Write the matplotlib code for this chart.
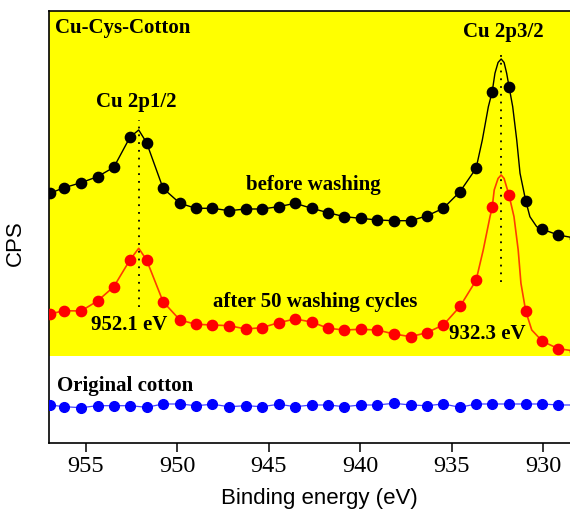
import numpy as np
import matplotlib.pyplot as plt

# marker energies (eV), shared by all three spectra
energy = [956.96, 956.17, 955.25, 954.35, 953.46, 952.58, 951.67, 950.77, 949.85,
          948.98, 948.07, 947.16, 946.25, 945.37, 944.46, 943.55, 942.66, 941.75,
          940.87, 939.98, 939.07, 938.16, 937.25, 936.37, 935.46, 934.55, 933.67,
          932.79, 931.87, 930.96, 930.05, 929.18, 928.29]

# intensities (a.u., stacked) at the marker energies
before = [249.7, 255.3, 260.3, 266.3, 275.7, 305.7, 300.3, 254.7, 239.7, 234.7,
          234.7, 232.3, 234.0, 234.0, 236.3, 239.7, 234.7, 230.3, 226.3, 224.7,
          223.0, 222.3, 222.3, 227.0, 234.7, 251.3, 274.7, 351.3, 356.3, 242.3,
          213.7, 208.0, 205.0]
after = [129.0, 132.3, 132.0, 142.0, 156.3, 183.0, 183.0, 141.3, 123.0, 118.7,
         118.0, 117.3, 114.0, 115.3, 120.3, 124.0, 121.0, 114.7, 113.0, 113.7,
         113.0, 109.0, 106.3, 110.3, 118.0, 136.5, 162.7, 235.5, 247.7, 132.0,
         101.7, 94.3, 92.0]
original = [38.0, 36.3, 35.3, 37.3, 37.3, 37.3, 35.7, 39.0, 39.0, 37.3, 38.7,
            36.3, 37.3, 36.3, 38.7, 36.3, 38.0, 38.0, 36.3, 38.0, 38.0, 39.7,
            38.0, 37.3, 39.0, 35.7, 39.0, 39.0, 39.0, 39.0, 39.0, 38.0, 38.0]

# extra points of the fitted curves around the peaks (no markers there)
before_peak_e = [952.1, 933.33, 933.0, 932.64, 932.47, 932.3, 932.14, 932.0,
                 931.67, 931.45, 931.27, 930.73, 930.36]
before_peak_y = [313.0, 303.0, 336.3, 369.7, 380.5, 384.0, 380.5, 369.7,
                 336.3, 303.0, 269.7, 226.3, 216.3]
after_peak_e = [952.1, 933.28, 932.91, 932.68, 932.47, 932.3, 932.14, 931.6,
                931.37, 931.22, 930.63]
after_peak_y = [194.7, 193.0, 226.3, 253.0, 264.5, 268.0, 264.5, 226.3,
                193.0, 159.7, 113.0]

peaks = [952.1, 932.3]
peak_names = ["Cu 2p1/2", "Cu 2p3/2"]


def curve(e1, y1, e2, y2):
    e = np.array(list(e1) + list(e2))
    y = np.array(list(y1) + list(y2))
    order = np.argsort(e)[::-1]
    return e[order], y[order]


fig = plt.figure(figsize=(5.7, 5.16), dpi=100)
ax = fig.add_axes([0.086, 0.1415, 0.9474, 0.8372])

serif = "Liberation Serif"
lab = dict(fontfamily=serif, fontweight="bold", fontsize=15)

# yellow panel for the Cu-Cys-Cotton spectra
ax.axhspan(87.3, 432, color="#FFFF00", zorder=0, lw=0)

e, y = curve(energy, before, before_peak_e, before_peak_y)
ax.plot(e, y, color="black", lw=1.0, zorder=2)
ax.plot(energy, before, "o", color="black", ms=7.4, zorder=3)

e, y = curve(energy, after, after_peak_e, after_peak_y)
ax.plot(e, y, color="#FF3C00", lw=1.2, zorder=2)
ax.plot(energy, after, "o", color="#FF0000", ms=7.4, zorder=3)

ax.plot(energy, original, "-", color="#4040FF", lw=0.9, zorder=2)
ax.plot(energy, original, "o", color="#0000FF", ms=7.0, zorder=3)

# dotted peak markers
ax.vlines(peaks[0], 136, 323, color="black", lw=1.3, linestyles=(0, (1, 3.3)), zorder=4)
ax.vlines(peaks[1], 161, 391, color="black", lw=1.3, linestyles=(0, (1, 3.3)), zorder=4)

ax.text(956.68, 410, "Cu-Cys-Cotton", ha="left", va="baseline", **lab)
ax.text(952.26, 335.5, peak_names[0], ha="center", va="baseline", **lab)
ax.text(932.2, 405.7, peak_names[1], ha="center", va="baseline", **lab)
ax.text(942.58, 253, "before washing", ha="center", va="baseline", **lab)
ax.text(942.48, 136.3, "after 50 washing cycles", ha="center", va="baseline", **lab)
ax.text(952.64, 113, "%.1f eV" % peaks[0], ha="center", va="baseline", **lab)
ax.text(933.03, 103.7, "%.1f eV" % peaks[1], ha="center", va="baseline", **lab)
ax.text(956.58, 52.3, "Original cotton", ha="left", va="baseline", **lab)

ax.set_xlim(957, 927.5)
ax.set_ylim(0, 432)
ax.set_xticks([955, 950, 945, 940, 935, 930])
ax.set_yticks([])
ax.tick_params(axis="x", direction="out", length=6.5, width=1.1, pad=3)
for t in ax.get_xticklabels():
    t.set_fontfamily(serif)
    t.set_fontsize(17.5)
for s in ax.spines.values():
    s.set_linewidth(1.2)

ax.set_xlabel("Binding energy (eV)", fontfamily="Liberation Sans", fontsize=16)
ax.set_ylabel("CPS", fontfamily="Liberation Sans", fontsize=16)
ax.xaxis.set_label_coords(0.5, -0.104)
ax.yaxis.set_label_coords(-0.043, 0.463)

fig.savefig("out.png", dpi=100)
